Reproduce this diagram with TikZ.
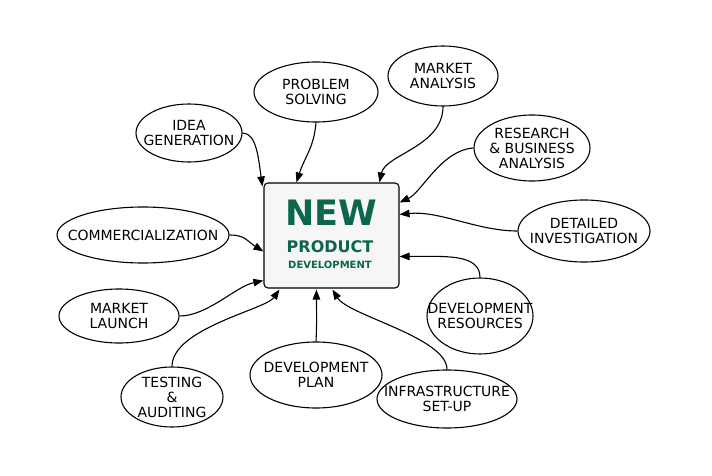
\documentclass[tikz,border=0pt]{standalone}
\usepackage{fontspec}
\setmainfont{DejaVu Sans}
\usetikzlibrary{arrows.meta,calc,shapes.geometric}
\definecolor{pgreen}{RGB}{12,102,78}
\definecolor{boxfill}{RGB}{246,246,246}
\begin{document}
\begin{tikzpicture}[x=1pt,y=-1pt,
  bubble/.style={draw, ellipse, line width=1.1pt, fill=white, inner sep=0pt},
  lbl/.style={align=center, inner sep=0pt, font=\fontsize{14}{15}\selectfont},
  link/.style={line width=1.1pt, -{Triangle[length=10pt,width=7.5pt]}},
]
\useasboundingbox (0,0) rectangle (712,476);
\node[draw, line width=1.1pt, rounded corners=4pt, fill=boxfill, minimum width=135pt, minimum height=105pt, inner sep=0pt] (box) at (331.5,235.5) {};
\node[text=pgreen, font=\bfseries\fontsize{35}{35}\selectfont] (new) at (331,213) {NEW};
\node[text=pgreen, font=\bfseries\fontsize{16}{16}\selectfont] (prod) at (330,247) {PRODUCT};
\node[text=pgreen, font=\bfseries\fontsize{10}{10}\selectfont] (dev) at (330,265) {DEVELOPMENT};

\node[bubble, minimum width=106pt, minimum height=58pt] (idea) at (189,133) {};
\node[lbl] (ideat) at (idea) {IDEA\\GENERATION};
\node[bubble, minimum width=124pt, minimum height=60pt] (problem) at (316,92) {};
\node[lbl] (problemt) at (problem) {PROBLEM\\SOLVING};
\node[bubble, minimum width=110pt, minimum height=60pt] (market) at (443,76) {};
\node[lbl] (markett) at (market) {MARKET\\ANALYSIS};
\node[bubble, minimum width=116pt, minimum height=66pt] (research) at (532,148) {};
\node[lbl] (researcht) at (research) {RESEARCH\\\& BUSINESS\\ANALYSIS};
\node[bubble, minimum width=132pt, minimum height=62pt] (det) at (584,231) {};
\node[lbl] (dett) at (det) {DETAILED\\INVESTIGATION};
\node[bubble, minimum width=172pt, minimum height=56pt] (comm) at (143,235) {};
\node[lbl] (commt) at (comm) {COMMERCIALIZATION};
\node[bubble, minimum width=120pt, minimum height=54pt] (launch) at (119,316) {};
\node[lbl] (launcht) at (launch) {MARKET\\LAUNCH};
\node[bubble, minimum width=106pt, minimum height=76pt] (devres) at (480,316) {};
\node[lbl] (devrest) at (devres) {DEVELOPMENT\\RESOURCES};
\node[bubble, minimum width=102pt, minimum height=60pt] (testing) at (172,397) {};
\node[lbl] (testingt) at (testing) {TESTING\\\&\\AUDITING};
\node[bubble, minimum width=132pt, minimum height=66pt] (plan) at (316,375) {};
\node[lbl] (plant) at (plan) {DEVELOPMENT\\PLAN};
\node[bubble, minimum width=140pt, minimum height=58pt] (infra) at (447,399) {};
\node[lbl] (infrat) at (infra) {INFRASTRUCTURE\\SET-UP};

\draw[link] (idea.east) .. controls +(14,0) and +(-4,-28) .. ($(box.north west)+(-1,4)$);
\draw[link] (problem.south) .. controls +(-2,25) and +(8,-25) .. ($(box.north west)+(33,0)$);
\draw[link] (market.south) .. controls +(0,40) and +(6,-28) .. ($(box.north west)+(116,0)$);
\draw[link] (research.west) .. controls +(-32,2) and +(22,-10) .. ($(box.north east)+(0,20)$);
\draw[link] (det.west) .. controls +(-40,0) and +(40,-4) .. ($(box.north east)+(0,32)$);
\draw[link] (devres.north) .. controls +(0,-24) and +(45,0) .. ($(box.north east)+(0,74)$);
\draw[link] (infra.north) .. controls +(0,-32) and +(16,26) .. ($(box.south west)+(69,1)$);
\draw[link] (plan.north) .. controls +(1,-20) and +(0,20) .. ($(box.south west)+(53,1)$);
\draw[link] (testing.north) .. controls +(0,-38) and +(-14,20) .. ($(box.south west)+(16,1)$);
\draw[link] (launch.east) .. controls +(28,0) and +(-28,6) .. ($(box.south west)+(0,-8)$);
\draw[link] (comm.east) .. controls +(16,0) and +(-16,-10) .. ($(box.north west)+(0,69)$);
\end{tikzpicture}
\end{document}
